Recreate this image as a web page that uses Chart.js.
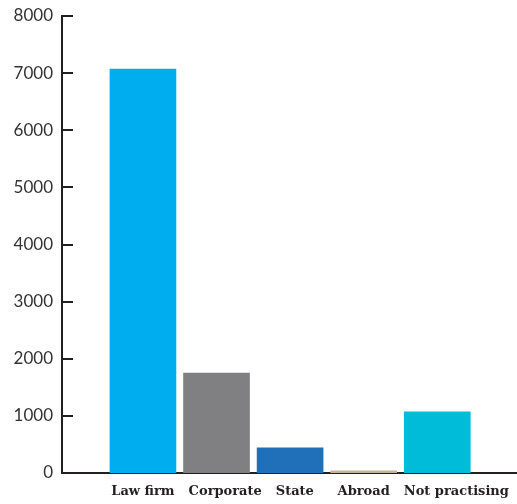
<!DOCTYPE html>
<html>
<head>
<meta charset="utf-8">
<script src="https://cdn.jsdelivr.net/npm/chart.js@4"></script>
<style>
  html, body { margin: 0; padding: 0; background: #fff; }
  #wrap { width: 517px; height: 504px; }
</style>
</head>
<body>
<div id="wrap"><canvas id="grafico"></canvas></div>
<script>
// Dados do grafico
const categorias = ['Law firm', 'Corporate', 'State', 'Abroad', 'Not practising'];
const valores = [7070, 1750, 440, 40, 1070];
const cores = ['#00ADEF', '#808083', '#1F70B8', '#C4B59A', '#00BCD8'];
const ticksY = [0, 1000, 2000, 3000, 4000, 5000, 6000, 7000, 8000];

const corEixo = '#231F20';
const fonteX = 'bold 13px "DejaVu Serif"';

// ticks do eixo y desenhados para dentro da area
const ticksInternos = {
  id: 'ticksInternos',
  afterDatasetsDraw(chart) {
    const ctx = chart.ctx;
    const y = chart.scales.y;
    const left = chart.chartArea.left;
    ctx.save();
    ctx.strokeStyle = corEixo;
    ctx.lineWidth = 2;
    ticksY.forEach(v => {
      const py = Math.round(y.getPixelForValue(v));
      ctx.beginPath();
      ctx.moveTo(left - 1, py);
      ctx.lineTo(left + 11, py);
      ctx.stroke();
    });
    ctx.restore();
  }
};

// rotulos do eixo x (empurra para a direita quando encosta no anterior)
const rotulosX = {
  id: 'rotulosX',
  afterDraw(chart) {
    const ctx = chart.ctx;
    const x = chart.scales.x;
    const yTxt = chart.chartArea.bottom + 19;
    ctx.save();
    ctx.font = fonteX;
    ctx.fillStyle = corEixo;
    ctx.textBaseline = 'middle';
    ctx.textAlign = 'left';
    let fimAnterior = -Infinity;
    categorias.forEach((c, i) => {
      const w = ctx.measureText(c).width;
      let inicio = x.getPixelForValue(i + 1) - w / 2;
      if (inicio < fimAnterior + 14) inicio = fimAnterior + 14;
      ctx.fillText(c, inicio, yTxt);
      fimAnterior = inicio + w;
    });
    ctx.restore();
  }
};

new Chart(document.getElementById('grafico'), {
  type: 'bar',
  data: {
    datasets: [{
      data: valores.map((v, i) => ({ x: i + 1, y: v })),
      backgroundColor: cores,
      barThickness: 66,
      borderWidth: 0
    }]
  },
  options: {
    responsive: true,
    maintainAspectRatio: false,
    animation: false,
    layout: { padding: { top: 16, right: 1, left: 0, bottom: 0 } },
    plugins: {
      legend: { display: false },
      tooltip: { enabled: false }
    },
    scales: {
      x: {
        type: 'linear',
        min: -0.1,
        max: 6.07,
        offset: false,
        afterFit: s => { s.height = 31; s.paddingLeft = 0; s.paddingRight = 0; },
        grid: { display: false, drawTicks: false },
        border: { display: true, color: corEixo, width: 2 },
        ticks: { display: false }
      },
      y: {
        min: 0,
        max: 8000,
        afterFit: s => { s.width = 62; s.paddingTop = 0; s.paddingBottom = 0; },
        afterBuildTicks: s => { s.ticks = ticksY.map(v => ({ value: v })); },
        grid: { display: false, drawTicks: false },
        border: { display: true, color: corEixo, width: 2 },
        ticks: {
          padding: 9,
          color: '#333333',
          font: { family: 'Lato', size: 17 },
          callback: v => String(v)
        }
      }
    }
  },
  plugins: [ticksInternos, rotulosX]
});
</script>
</body>
</html>
